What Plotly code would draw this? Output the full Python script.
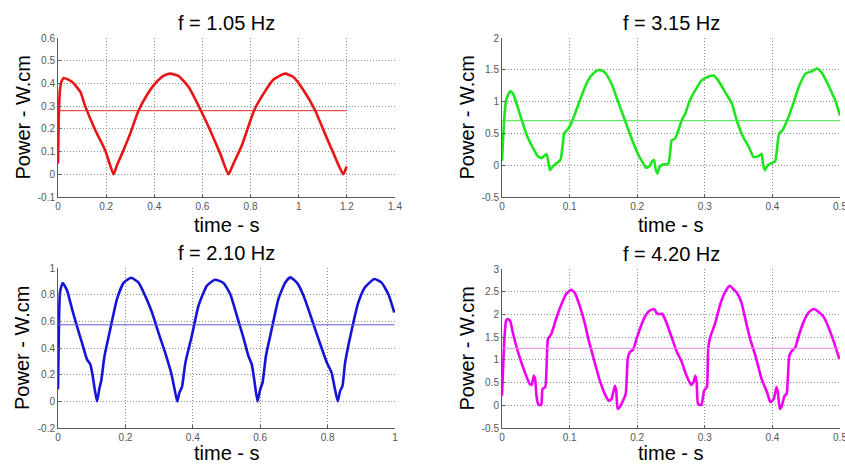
import plotly.graph_objects as go

# ---------------- data ----------------
titles = ["f = 1.05 Hz", "f = 3.15 Hz", "f = 2.10 Hz", "f = 4.20 Hz"]

t_105 = [0, 0.003, 0.008, 0.015, 0.024, 0.058, 0.093, 0.113, 0.155, 0.196, 0.231, 0.245, 0.266, 0.30,
         0.335, 0.369, 0.404, 0.438, 0.466, 0.50, 0.542, 0.593, 0.632, 0.674, 0.708, 0.729, 0.764,
         0.815, 0.854, 0.895, 0.943, 0.978, 1.02, 1.068, 1.109, 1.151, 1.185, 1.199]
p_105 = [0.047, 0.25, 0.37, 0.41, 0.424, 0.407, 0.363, 0.30, 0.194, 0.106, 0.0, 0.04, 0.091, 0.179,
         0.282, 0.348, 0.40, 0.433, 0.443, 0.433, 0.385, 0.282, 0.194, 0.091, 0.0, 0.047, 0.128,
         0.282, 0.355, 0.417, 0.443, 0.428, 0.37, 0.282, 0.179, 0.076, 0.0, 0.035]
mean_105 = 0.28

t_210 = [0, 0.003, 0.006, 0.014, 0.027, 0.042, 0.056, 0.071, 0.086, 0.096, 0.103, 0.109, 0.116, 0.123,
         0.128, 0.138, 0.155, 0.175, 0.195, 0.217, 0.239, 0.259, 0.279, 0.298, 0.318, 0.333, 0.338,
         0.346, 0.354, 0.36, 0.368, 0.378, 0.397, 0.417, 0.442, 0.466, 0.491, 0.511, 0.531, 0.55,
         0.565, 0.575, 0.583, 0.592, 0.60, 0.607, 0.617, 0.634, 0.654, 0.674, 0.689, 0.709, 0.729,
         0.753, 0.778, 0.798, 0.812, 0.82, 0.83, 0.837, 0.844, 0.852, 0.872, 0.891, 0.911, 0.939,
         0.96, 0.98, 0.998]
p_210 = [0.09, 0.6, 0.82, 0.888, 0.83, 0.69, 0.566, 0.44, 0.315, 0.277, 0.19, 0.09, 0.0, 0.10,
         0.15, 0.34, 0.54, 0.767, 0.89, 0.927, 0.89, 0.79, 0.666, 0.516, 0.365, 0.24, 0.19,
         0.09, 0.0, 0.064, 0.11, 0.29, 0.49, 0.717, 0.868, 0.912, 0.888, 0.805, 0.64, 0.48,
         0.34, 0.277, 0.15, 0.0, 0.09, 0.14, 0.34, 0.54, 0.767, 0.89, 0.93, 0.89, 0.79,
         0.616, 0.43, 0.29, 0.214, 0.114, 0.0, 0.077, 0.114, 0.29, 0.54, 0.74, 0.855, 0.917,
         0.89, 0.805, 0.666]
mean_210 = 0.574

t_315 = [0, 0.0035, 0.006, 0.012, 0.016, 0.023, 0.031, 0.038, 0.045, 0.053, 0.059, 0.063, 0.066,
         0.069, 0.071, 0.075, 0.08, 0.085, 0.087, 0.09, 0.092, 0.097, 0.102, 0.107, 0.117, 0.127,
         0.137, 0.144, 0.152, 0.162, 0.171, 0.181, 0.191, 0.201, 0.209, 0.213, 0.218, 0.222,
         0.225, 0.227, 0.23, 0.233, 0.238, 0.246, 0.249, 0.251, 0.256, 0.261, 0.266, 0.271,
         0.278, 0.286, 0.295, 0.305, 0.313, 0.32, 0.33, 0.34, 0.347, 0.357, 0.365, 0.372, 0.379,
         0.384, 0.386, 0.389, 0.392, 0.397, 0.404, 0.406, 0.41, 0.415, 0.422, 0.43, 0.439,
         0.449, 0.459, 0.466, 0.474, 0.484, 0.494, 0.5]
p_315 = [0.07, 0.76, 1.02, 1.16, 1.13, 0.92, 0.65, 0.44, 0.29, 0.14, 0.11, 0.155, 0.17,
         0.025, -0.08, -0.02, 0.025, 0.066, 0.10, 0.34, 0.50, 0.56, 0.65, 0.78, 1.07, 1.33,
         1.46, 1.50, 1.46, 1.28, 1.02, 0.73, 0.44, 0.18, 0.025, -0.04, -0.02, 0.06,
         0.08, -0.05, -0.13, -0.03, 0.01, 0.02, 0.23, 0.39, 0.42, 0.55, 0.71, 0.81,
         1.02, 1.18, 1.33, 1.39, 1.41, 1.33, 1.15, 0.97, 0.71, 0.44, 0.29, 0.13, 0.14,
         0.18, 0.025, -0.08, -0.02, 0.025, 0.06, 0.18, 0.50, 0.55, 0.71, 0.94, 1.23,
         1.44, 1.48, 1.52, 1.44, 1.23, 0.99, 0.78]
mean_315 = 0.70

t_420 = [0, 0.0035, 0.006, 0.008, 0.012, 0.016, 0.021, 0.026, 0.033, 0.041, 0.044, 0.047, 0.049,
         0.051, 0.054, 0.058, 0.06, 0.064, 0.068, 0.073, 0.08, 0.087, 0.095, 0.102, 0.107, 0.115,
         0.122, 0.129, 0.137, 0.144, 0.152, 0.158, 0.162, 0.167, 0.169, 0.171, 0.174, 0.179,
         0.183, 0.186, 0.189, 0.194, 0.199, 0.204, 0.211, 0.218, 0.225, 0.23, 0.237, 0.243,
         0.251, 0.258, 0.266, 0.273, 0.28, 0.283, 0.286, 0.288, 0.29, 0.295, 0.299, 0.303,
         0.305, 0.308, 0.315, 0.323, 0.33, 0.337, 0.342, 0.347, 0.354, 0.36, 0.367, 0.375,
         0.384, 0.392, 0.397, 0.402, 0.406, 0.408, 0.411, 0.414, 0.418, 0.421, 0.425, 0.429,
         0.434, 0.439, 0.446, 0.454, 0.461, 0.469, 0.476, 0.484, 0.491, 0.499]
p_420 = [0.21, 1.46, 1.86, 1.90, 1.86, 1.60, 1.31, 1.06, 0.76, 0.47, 0.45, 0.65, 0.58,
         0.21, 0.01, 0.01, 0.36, 0.40, 1.46, 1.57, 1.90, 2.19, 2.45, 2.54, 2.49, 2.19,
         1.83, 1.39, 0.95, 0.58, 0.25, 0.10, 0.14, 0.43, 0.32, -0.08, -0.04, 0.10,
         0.25, 1.02, 1.17, 1.23, 1.46, 1.68, 1.94, 2.08, 2.12, 2.01, 2.01, 1.83,
         1.50, 1.20, 0.95, 0.65, 0.45, 0.50, 0.65, 0.50, 0.03, 0.01, 0.32, 0.40,
         1.24, 1.50, 1.79, 2.23, 2.49, 2.63, 2.56, 2.49, 2.27, 1.90, 1.46, 1.09,
         0.58, 0.29, 0.07, 0.14, 0.40, 0.29, -0.08, -0.01, 0.21, 0.25, 1.09, 1.20,
         1.28, 1.53, 1.83, 2.05, 2.12, 2.05, 1.94, 1.68, 1.39, 1.02]
mean_420 = 1.255

x_ticks_1 = [0, 0.2, 0.4, 0.6, 0.8, 1.0, 1.2, 1.4]
x_labels_1 = ["0", "0.2", "0.4", "0.6", "0.8", "1", "1.2", "1.4"]
y_ticks_1 = [-0.1, 0, 0.1, 0.2, 0.3, 0.4, 0.5, 0.6]
y_labels_1 = ["-0.1", "0", "0.1", "0.2", "0.3", "0.4", "0.5", "0.6"]

x_ticks_2 = [0, 0.1, 0.2, 0.3, 0.4, 0.5]
x_labels_2 = ["0", "0.1", "0.2", "0.3", "0.4", "0.5"]
y_ticks_2 = [-0.5, 0, 0.5, 1, 1.5, 2]
y_labels_2 = ["-0.5", "0", "0.5", "1", "1.5", "2"]

x_ticks_3 = [0, 0.2, 0.4, 0.6, 0.8, 1.0]
x_labels_3 = ["0", "0.2", "0.4", "0.6", "0.8", "1"]
y_ticks_3 = [-0.2, 0, 0.2, 0.4, 0.6, 0.8, 1.0]
y_labels_3 = ["-0.2", "0", "0.2", "0.4", "0.6", "0.8", "1"]

x_ticks_4 = [0, 0.1, 0.2, 0.3, 0.4, 0.5]
x_labels_4 = ["0", "0.1", "0.2", "0.3", "0.4", "0.5"]
y_ticks_4 = [-0.5, 0, 0.5, 1, 1.5, 2, 2.5, 3]
y_labels_4 = ["-0.5", "0", "0.5", "1", "1.5", "2", "2.5", "3"]

# ---------------- figure ----------------
W, H = 845, 464
FONT = "Arial, Liberation Sans, sans-serif"

panels = [
    (t_105, p_105, mean_105, "rgb(235,20,20)", "rgb(230,40,40)", [0, 1.4], [-0.1, 0.6],
     x_ticks_1, x_labels_1, y_ticks_1, y_labels_1, (58, 395, 38, 197)),
    (t_315, p_315, mean_315, "rgb(30,230,30)", "rgb(70,225,70)", [0, 0.5], [-0.5, 2],
     x_ticks_2, x_labels_2, y_ticks_2, y_labels_2, (502, 840, 38, 197)),
    (t_210, p_210, mean_210, "rgb(20,20,215)", "rgb(90,90,225)", [0, 1.0], [-0.2, 1.0],
     x_ticks_3, x_labels_3, y_ticks_3, y_labels_3, (58, 395, 268, 428)),
    (t_420, p_420, mean_420, "rgb(240,0,240)", "rgb(225,140,225)", [0, 0.5], [-0.5, 3],
     x_ticks_4, x_labels_4, y_ticks_4, y_labels_4, (502, 840, 269, 428)),
]

fig = go.Figure()
annotations = []
layout_axes = {}

for i, (t, p, m, col, mcol, xr, yr, xt, xl, yt, yl, box) in enumerate(panels):
    n = i + 1
    xa = "x" if n == 1 else f"x{n}"
    ya = "y" if n == 1 else f"y{n}"
    x0, x1, y0, y1 = box
    fig.add_trace(go.Scatter(x=t, y=p, mode="lines", xaxis=xa, yaxis=ya,
                             line=dict(color=col, width=2.6, shape="spline", smoothing=0.5),
                             showlegend=False, hoverinfo="skip"))
    fig.add_trace(go.Scatter(x=[t[0], t[-1]], y=[m, m], mode="lines", xaxis=xa, yaxis=ya,
                             line=dict(color=mcol, width=1),
                             showlegend=False, hoverinfo="skip"))
    common = dict(showgrid=True, gridcolor="rgb(140,140,140)", griddash="1px,2px", gridwidth=1,
                  zeroline=False, showline=True, linecolor="rgb(90,90,90)", linewidth=1,
                  ticks="inside", ticklen=3, tickcolor="rgb(90,90,90)", automargin=False,
                  ticklabeloverflow="allow",
                  tickfont=dict(family=FONT, size=10, color="rgb(85,85,85)"), fixedrange=True)
    layout_axes["xaxis" if n == 1 else f"xaxis{n}"] = dict(
        common, domain=[x0 / W, x1 / W], range=xr, anchor=ya,
        tickmode="array", tickvals=xt, ticktext=xl)
    layout_axes["yaxis" if n == 1 else f"yaxis{n}"] = dict(
        common, domain=[1 - y1 / H, 1 - y0 / H], range=yr, anchor=xa,
        tickmode="array", tickvals=yt, ticktext=yl)
    cx = (x0 + x1) / 2
    xtitle_off = 28 if n <= 2 else 25
    annotations.append(dict(text=titles[i], x=cx / W, y=1 - (y0 - 15) / H, xref="paper", yref="paper",
                            xanchor="center", yanchor="middle", showarrow=False,
                            font=dict(family=FONT, size=20, color="black")))
    annotations.append(dict(text="time - s", x=cx / W, y=1 - (y1 + xtitle_off) / H, xref="paper",
                            yref="paper", xanchor="center", yanchor="middle", showarrow=False,
                            font=dict(family=FONT, size=20, color="black")))
    annotations.append(dict(text="Power - W.cm", x=(x0 - 36) / W, y=1 - ((y0 + y1) / 2) / H,
                            xref="paper", yref="paper", xanchor="center", yanchor="middle",
                            textangle=-90, showarrow=False,
                            font=dict(family=FONT, size=20, color="black")))

fig.update_layout(width=W, height=H, margin=dict(l=0, r=0, t=0, b=0),
                  paper_bgcolor="white", plot_bgcolor="white",
                  annotations=annotations, **layout_axes)

fig.write_html("out.html", config={"displayModeBar": False},
               post_script="document.body.style.margin='0';document.body.style.overflow='hidden';")
